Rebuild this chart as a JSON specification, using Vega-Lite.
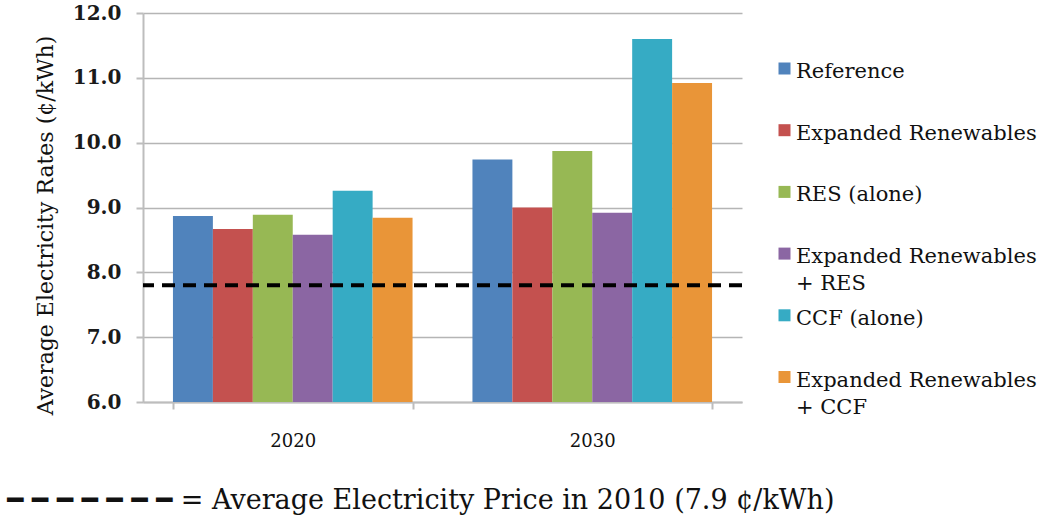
{
  "$schema": "https://vega.github.io/schema/vega-lite/v6.json",
  "width": 599,
  "height": 389,
  "autosize": {"type": "none"},
  "padding": {"left": 143, "top": 13, "right": 303, "bottom": 119},
  "background": "white",
  "config": {
    "font": "DejaVu Serif",
    "view": {"stroke": null}
  },
  "title": {
    "text": "━ ━ ━ ━ ━ ━ ━ = Average Electricity Price in 2010 (7.9 ¢/kWh)",
    "orient": "bottom",
    "anchor": "start",
    "frame": "group",
    "dx": -136,
    "offset": 38,
    "fontSize": 27,
    "fontWeight": "normal",
    "font": "DejaVu Serif",
    "color": "#111111"
  },
  "layer": [
    {
      "data": {
        "values": [
          {"year": "2020", "scenario": "Reference", "rate": 8.87},
          {"year": "2020", "scenario": "Expanded Renewables", "rate": 8.67},
          {"year": "2020", "scenario": "RES (alone)", "rate": 8.89},
          {"year": "2020", "scenario": "Expanded Renewables|+ RES", "rate": 8.58},
          {"year": "2020", "scenario": "CCF (alone)", "rate": 9.26},
          {"year": "2020", "scenario": "Expanded Renewables|+ CCF", "rate": 8.84},
          {"year": "2030", "scenario": "Reference", "rate": 9.74},
          {"year": "2030", "scenario": "Expanded Renewables", "rate": 9.0},
          {"year": "2030", "scenario": "RES (alone)", "rate": 9.87},
          {"year": "2030", "scenario": "Expanded Renewables|+ RES", "rate": 8.92},
          {"year": "2030", "scenario": "CCF (alone)", "rate": 11.6},
          {"year": "2030", "scenario": "Expanded Renewables|+ CCF", "rate": 10.92}
        ]
      },
      "mark": {"type": "bar"},
      "encoding": {
        "x": {
          "field": "year",
          "type": "nominal",
          "scale": {"paddingInner": 0.2, "paddingOuter": 0.1},
          "axis": {
            "title": null,
            "labelAngle": 0,
            "labelFont": "DejaVu Serif",
            "labelFontSize": 18,
            "labelColor": "#111111",
            "labelPadding": 23,
            "tickBand": "extent",
            "tickSize": 7,
            "tickWidth": 2,
            "tickColor": "#BDBDBD",
            "domainColor": "#BDBDBD",
            "domainWidth": 2,
            "grid": false
          }
        },
        "xOffset": {
          "field": "scenario",
          "type": "nominal",
          "sort": ["Reference", "Expanded Renewables", "RES (alone)", "Expanded Renewables|+ RES", "CCF (alone)", "Expanded Renewables|+ CCF"],
          "scale": {"paddingInner": 0, "paddingOuter": 0}
        },
        "y": {
          "field": "rate",
          "type": "quantitative",
          "scale": {"domain": [6, 12], "zero": false, "nice": false, "clamp": true},
          "axis": {
            "title": "Average  Electricity  Rates (¢/kWh)",
            "titleFont": "DejaVu Serif",
            "titleFontSize": 22,
            "titleFontWeight": "normal",
            "titleColor": "#111111",
            "titlePadding": 15,
            "titleY": 212,
            "values": [6, 7, 8, 9, 10, 11, 12],
            "format": ".1f",
            "labelFont": "DejaVu Serif",
            "labelFontSize": 20,
            "labelFontWeight": "bold",
            "labelColor": "#1a1a1a",
            "labelPadding": 15,
            "tickSize": 7,
            "tickWidth": 2,
            "tickColor": "#BDBDBD",
            "domainColor": "#BDBDBD",
            "domainWidth": 2,
            "grid": true,
            "gridColor": "#B5B5B5",
            "gridWidth": 1.5
          }
        },
        "color": {
          "field": "scenario",
          "type": "nominal",
          "scale": {
            "domain": ["Reference", "Expanded Renewables", "RES (alone)", "Expanded Renewables|+ RES", "CCF (alone)", "Expanded Renewables|+ CCF"],
            "range": ["#5083BC", "#C4514F", "#97B854", "#8B66A3", "#36ABC4", "#E99538"]
          },
          "legend": {
            "orient": "none",
            "legendX": 631,
            "legendY": 45,
            "title": null,
            "symbolType": "square",
            "symbolSize": 144,
            "symbolStrokeWidth": 0,
            "labelFont": "DejaVu Serif",
            "labelFontSize": 21,
            "labelColor": "#111111",
            "labelOffset": 1,
            "labelLimit": 400,
            "gridAlign": "all",
            "rowPadding": 10.7,
            "labelExpr": "split(datum.label, '|')",
            "encode": {
              "labels": {
                "update": {
                  "baseline": {"value": "top"},
                  "y": {"value": 3},
                  "lineHeight": {"value": 27}
                }
              }
            }
          }
        }
      }
    },
    {
      "data": {"values": [{"price2010": 7.8}]},
      "mark": {"type": "rule", "color": "black", "strokeWidth": 4, "strokeDash": [13, 8]},
      "encoding": {
        "y": {"field": "price2010", "type": "quantitative"}
      }
    }
  ]
}
